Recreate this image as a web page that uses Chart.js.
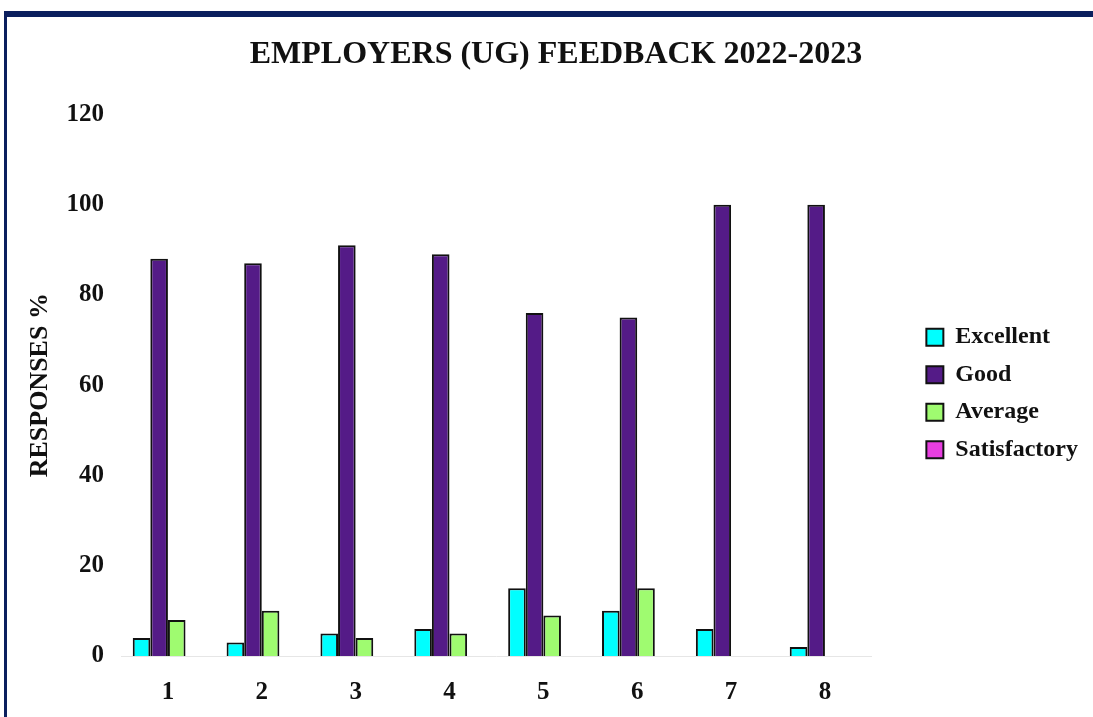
<!DOCTYPE html>
<html>
<head>
<meta charset="utf-8">
<script src="https://cdn.jsdelivr.net/npm/chart.js@4/dist/chart.umd.min.js"></script>
<style>
  html, body { margin: 0; padding: 0; background: #fff; }
  #wrap { position: relative; width: 1093px; height: 717px; overflow: hidden; }
  #frame { position: absolute; left: 4px; top: 11px; width: 1200px; height: 800px;
           border-top: 6px solid #0b1f5e; border-left: 3px solid #0b1f5e; box-sizing: border-box; }
  #box { position: absolute; left: 0; top: 0; width: 1093px; height: 717px; }
</style>
</head>
<body>
<div id="wrap">
  <div id="frame"></div>
  <div id="box"><canvas id="c"></canvas></div>
</div>
<script>
const categories = ['1', '2', '3', '4', '5', '6', '7', '8'];
const excellent = [4, 3, 5, 6, 15, 10, 6, 2];
const good = [88, 87, 91, 89, 76, 75, 100, 100];
const average = [8, 10, 4, 5, 9, 15, 0, 0];
const satisfactory = [0, 0, 0, 0, 0, 0, 0, 0];
const yTicks = [0, 20, 40, 60, 80, 100, 120];

const serif = '"Liberation Serif", "Times New Roman", serif';

const mk = (label, data, color) => ({
  label, data,
  backgroundColor: color,
  borderColor: '#111',
  borderWidth: 2,
  categoryPercentage: 0.75,
  barPercentage: 1.0
});

new Chart(document.getElementById('c').getContext('2d'), {
  type: 'bar',
  data: {
    labels: categories,
    datasets: [
      mk('Excellent', excellent, '#00ffff'),
      mk('Good', good, '#541b87'),
      mk('Average', average, '#9ffb70'),
      mk('Satisfactory', satisfactory, '#e83ee0')
    ]
  },
  options: {
    responsive: true,
    maintainAspectRatio: false,
    animation: false,
    layout: { padding: { left: 24, right: 5, top: 0, bottom: 0 } },
    plugins: {
      title: {
        display: true,
        text: 'EMPLOYERS (UG) FEEDBACK 2022-2023',
        color: '#111',
        font: { family: serif, size: 32, weight: 'bold' },
        padding: { top: 36, bottom: 40 }
      },
      legend: {
        position: 'right',
        title: { display: true, text: ' ', font: { size: 10 }, padding: 29 },
        labels: {
          color: '#111',
          font: { family: serif, size: 24, weight: 'bold' },
          boxWidth: 17,
          boxHeight: 17,
          padding: 13.5,
          useBorderRadius: false
        }
      },
      tooltip: { enabled: false }
    },
    scales: {
      x: {
        grid: { display: false, drawTicks: false },
        border: { display: true, color: '#e6e6e6', width: 1 },
        ticks: {
          color: '#111',
          padding: 22,
          font: { family: serif, size: 25, weight: 'bold' }
        },
        afterFit: s => { s.height = 61; }
      },
      y: {
        min: 0,
        max: 120,
        grid: { display: false, drawTicks: false },
        border: { display: false },
        afterBuildTicks: s => { s.ticks = yTicks.map(v => ({ value: v })); },
        ticks: {
          color: '#111',
          padding: 17,
          font: { family: serif, size: 25, weight: 'bold' }
        },
        title: {
          display: true,
          text: 'RESPONSES %',
          color: '#111',
          font: { family: serif, size: 26, weight: 'bold' },
          padding: { top: 0.4, bottom: 0 }
        },
        afterFit: s => { s.width = 97; }
      },
      gap: {
        position: 'right',
        display: true,
        grid: { display: false, drawTicks: false },
        border: { display: false },
        ticks: { display: false },
        afterFit: s => { s.width = 41; }
      }
    }
  }
});
</script>
</body>
</html>
